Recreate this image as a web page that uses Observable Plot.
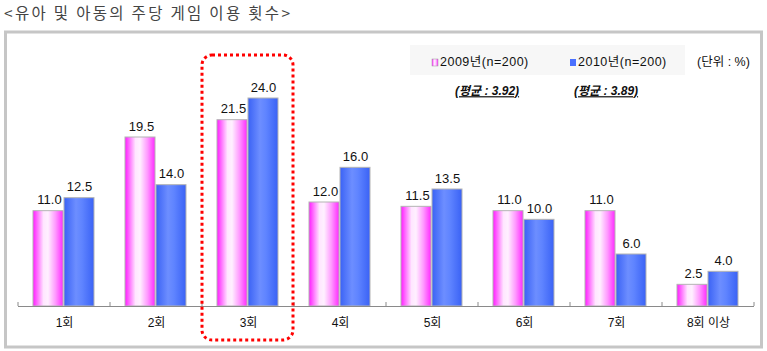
<!DOCTYPE html>
<html>
<head>
<meta charset="utf-8">
<script src="https://cdn.jsdelivr.net/npm/d3@7"></script>
<script src="https://cdn.jsdelivr.net/npm/@observablehq/plot@0.6"></script>
<style>
  html, body { margin: 0; padding: 0; background: #fff; }
</style>
</head>
<body>
<div id="chart"></div>
<script>
const title = "<유아 및 아동의 주당 게임 이용 횟수>";
const categories = ["1회", "2회", "3회", "4회", "5회", "6회", "7회", "8회 이상"];
const values2009 = [11.0, 19.5, 21.5, 12.0, 11.5, 11.0, 11.0, 2.5];
const values2010 = [12.5, 14.0, 24.0, 16.0, 13.5, 10.0, 6.0, 4.0];
const seriesLabels = ["2009년(n=200)", "2010년(n=200)"];
const averages = ["(평균 : 3.92)", "(평균 : 3.89)"];
const unitLabel = "(단위 : %)";
const highlight = "3회";

const data2009 = categories.map((c, i) => ({cat: c, v: values2009[i]}));
const data2010 = categories.map((c, i) => ({cat: c, v: values2010[i]}));

const FONT = "'Liberation Sans', 'Noto Sans CJK KR', sans-serif";

const chart = Plot.plot({
  width: 767,
  height: 351,
  marginLeft: 18,
  marginRight: 13,
  marginTop: 98,
  marginBottom: 45,
  style: {fontFamily: FONT, fontSize: "12px", background: "white", color: "#111"},
  x: {domain: categories, padding: 0, label: null, tickSize: 0, tickPadding: 12},
  y: {domain: [0, 24], axis: null},
  marks: [
    Plot.barY(data2009, {x: "cat", y: "v", fill: "url(#gPink)", stroke: "#b4b4b4", strokeWidth: 1, insetLeft: 15, insetRight: 47}),
    Plot.barY(data2010, {x: "cat", y: "v", fill: "url(#gBlue)", stroke: "#b4b4b4", strokeWidth: 1, insetLeft: 46, insetRight: 16}),
    Plot.text(data2009, {x: "cat", y: "v", text: d => d.v.toFixed(1), dx: -15, dy: -11, fontSize: 13, fill: "#111"}),
    Plot.text(data2010, {x: "cat", y: "v", text: d => d.v.toFixed(1), dx: 15, dy: -11, fontSize: 13, fill: "#111"}),
    Plot.ruleY([0], {stroke: "#8a8a8a", strokeWidth: 1.2})
  ]
});

const svg = d3.select(chart);
const defs = svg.insert("defs", ":first-child");
const gp = defs.append("linearGradient").attr("id", "gPink").attr("x1", 0).attr("x2", 1).attr("y1", 0).attr("y2", 0);
[[0, "#ff1aff"], [0.35, "#ffe6ff"], [0.5, "#fff0ff"], [0.75, "#ff99ff"], [1, "#ff2aff"]].forEach(([o, c]) =>
  gp.append("stop").attr("offset", o).attr("stop-color", c));
const gb = defs.append("linearGradient").attr("id", "gBlue").attr("x1", 0).attr("x2", 1).attr("y1", 0).attr("y2", 0);
[[0, "#3a62f5"], [0.4, "#6d8eff"], [0.6, "#5f84ff"], [1, "#3a62f5"]].forEach(([o, c]) =>
  gb.append("stop").attr("offset", o).attr("stop-color", c));

const xs = chart.scale("x");
const ys = chart.scale("y");
const y0 = ys.apply(0);

// tick marks at category boundaries
const bounds = categories.map(c => xs.apply(c)).concat([xs.apply(categories[categories.length - 1]) + xs.bandwidth]);
bounds.forEach(bx => {
  svg.append("line").attr("x1", bx).attr("x2", bx).attr("y1", y0).attr("y2", y0 - 4)
    .attr("stroke", "#8a8a8a").attr("stroke-width", 1);
});

// outer frame
svg.insert("rect", ":first-child").attr("x", 5.5).attr("y", 32).attr("width", 756).attr("height", 315)
  .attr("fill", "white").attr("stroke", "#c6c6c6").attr("stroke-width", 3);
svg.insert("rect", ":first-child").attr("width", 767).attr("height", 351).attr("fill", "white");

// title
svg.append("text").attr("x", 4).attr("y", 19).text(title)
  .attr("text-anchor", "start")
  .attr("font-family", "'Noto Sans CJK KR', sans-serif").attr("font-size", 15.5)
  .attr("letter-spacing", 2.3).attr("fill", "#444");

// highlight box around 3회
const hx = xs.apply(highlight);
svg.append("rect").attr("x", hx).attr("y", 55).attr("width", xs.bandwidth - 1).attr("height", 285)
  .attr("rx", 10).attr("fill", "none").attr("stroke", "#ff0000").attr("stroke-width", 3)
  .attr("stroke-dasharray", "3,3");

// legend
const lg = svg.append("g").attr("font-family", FONT).attr("font-size", 12.5).attr("fill", "#111").attr("text-anchor", "start");
lg.append("rect").attr("x", 410).attr("y", 45).attr("width", 275).attr("height", 30).attr("fill", "#f7f7f7");
lg.append("rect").attr("x", 432).attr("y", 59).attr("width", 6).attr("height", 7).attr("fill", "url(#gPink)").attr("stroke", "#999").attr("stroke-width", 0.5);
lg.append("text").attr("x", 440).attr("y", 62).attr("dy", "0.35em").attr("letter-spacing", 0.5).text(seriesLabels[0]);
lg.append("rect").attr("x", 570).attr("y", 59).attr("width", 6).attr("height", 7).attr("fill", "#4a70ff");
lg.append("text").attr("x", 578).attr("y", 62).attr("dy", "0.35em").attr("letter-spacing", 0.5).text(seriesLabels[1]);
lg.append("text").attr("x", 697).attr("y", 62).attr("dy", "0.35em").text(unitLabel);
lg.append("text").attr("x", 455).attr("y", 91).attr("dy", "0.35em").text(averages[0])
  .attr("font-style", "italic").attr("font-weight", "bold").attr("text-decoration", "underline").attr("font-size", 12);
lg.append("text").attr("x", 574).attr("y", 91).attr("dy", "0.35em").text(averages[1])
  .attr("font-style", "italic").attr("font-weight", "bold").attr("text-decoration", "underline").attr("font-size", 12);

document.getElementById("chart").appendChild(chart);
</script>
</body>
</html>
